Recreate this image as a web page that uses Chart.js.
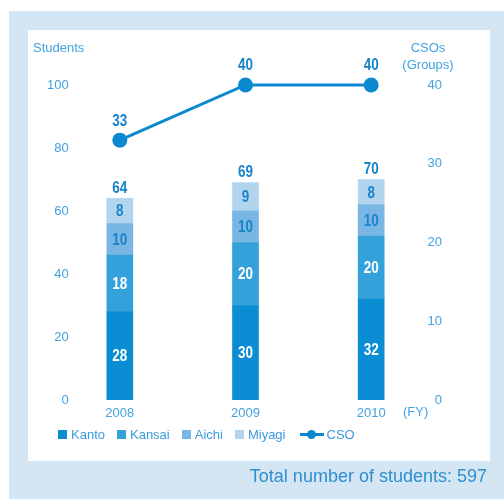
<!DOCTYPE html>
<html>
<head>
<meta charset="utf-8">
<script src="https://cdn.jsdelivr.net/npm/chart.js@4/dist/chart.umd.min.js"></script>
<style>
  html, body { margin: 0; padding: 0; background: #fff; }
  #wrap { position: relative; width: 504px; height: 499px; overflow: hidden; font-family: "Liberation Sans", Arial, sans-serif; }
  #frame { position: absolute; left: 9px; top: 11px; width: 495px; height: 488px; background: #d4e5f4; }
  #panel { position: absolute; left: 28px; top: 30px; width: 462px; height: 431px; background: #fff; }
  #chart { position: absolute; left: 0; top: 0; }
  #legend { position: absolute; left: 58px; top: 426px; height: 17px; display: flex; align-items: center; font-size: 13px; color: #3b9cdc; }
  #legend .item { display: flex; align-items: center; margin-right: 12px; }
  #legend .box { width: 9px; height: 9px; margin-right: 4px; }
  #legend .line { position: relative; width: 24px; height: 3px; margin-left: 2px; margin-right: 3px; }
  #legend .dot { position: absolute; left: 7px; top: -3px; width: 9px; height: 9px; border-radius: 50%; }
  #total { position: absolute; right: 17px; top: 466px; font-size: 18px; color: #2d8fcf; }
</style>
</head>
<body>
<div id="wrap">
  <div id="frame"></div>
  <div id="panel"></div>
  <canvas id="chart" width="504" height="499"></canvas>
  <div id="legend"></div>
  <div id="total">Total number of students: 597</div>
</div>
<script>
const years = ['2008', '2009', '2010'];
const kanto = [28, 30, 32];
const kansai = [18, 20, 20];
const aichi = [10, 10, 10];
const miyagi = [8, 9, 8];
const cso = [33, 40, 40];
const studentTicks = [0, 20, 40, 60, 80, 100];
const csoTicks = [0, 10, 20, 30, 40];

const tickColor = '#43a2df';
const numberFont = 'bold 16px "Liberation Sans", Arial, sans-serif';

Chart.defaults.font.family = '"Liberation Sans", Arial, sans-serif';
Chart.defaults.font.size = 13;
Chart.defaults.color = tickColor;

// bold numbers, squeezed a little to look condensed
function drawNumber(ctx, text, x, y, color) {
  ctx.save();
  ctx.font = numberFont;
  ctx.fillStyle = color;
  ctx.textAlign = 'center';
  ctx.textBaseline = 'middle';
  ctx.translate(x, y);
  ctx.scale(0.84, 1);
  ctx.fillText(text, 0, 0);
  ctx.restore();
}

// numbers on the bars, totals above the stacks and values above the CSO points
const valueLabels = {
  id: 'valueLabels',
  afterDatasetsDraw(chart) {
    const ctx = chart.ctx;
    const xScale = chart.scales.x;
    const yScale = chart.scales.y;
    chart.data.datasets.forEach((ds, i) => {
      const meta = chart.getDatasetMeta(i);
      meta.data.forEach((el, j) => {
        if (ds.type === 'line') {
          drawNumber(ctx, ds.data[j], el.x, el.y - 19, '#1583c8');
        } else {
          const p = el.getProps(['x', 'y', 'base'], true);
          drawNumber(ctx, ds.data[j], p.x, (p.y + p.base) / 2 + 1, ds.labelColor);
        }
      });
    });
    years.forEach((yr, j) => {
      const total = kanto[j] + kansai[j] + aichi[j] + miyagi[j];
      drawNumber(ctx, total, xScale.getPixelForValue(j), yScale.getPixelForValue(total) - 10, '#1583c8');
    });

    // axis captions
    ctx.save();
    ctx.font = '13px "Liberation Sans", Arial, sans-serif';
    ctx.fillStyle = tickColor;
    ctx.textBaseline = 'middle';
    ctx.textAlign = 'left';
    ctx.fillText('Students', 33, 48);
    ctx.fillText('(FY)', 403, 412);
    ctx.textAlign = 'center';
    ctx.fillText('CSOs', 428, 48);
    ctx.fillText('(Groups)', 428, 65);
    ctx.restore();
  }
};

const chart = new Chart(document.getElementById('chart'), {
  data: {
    labels: years,
    datasets: [
      {
        type: 'line',
        label: 'CSO',
        data: cso,
        yAxisID: 'y1',
        borderColor: '#0a89d0',
        backgroundColor: '#0a89d0',
        borderWidth: 3,
        pointRadius: 7.5,
        pointBorderWidth: 0,
        pointBackgroundColor: '#0a89d0',
        clip: false,
        order: 0
      },
      { type: 'bar', label: 'Kanto', data: kanto, backgroundColor: '#0a8dd2', labelColor: '#ffffff', order: 1 },
      { type: 'bar', label: 'Kansai', data: kansai, backgroundColor: '#35a1db', labelColor: '#ffffff', order: 1 },
      { type: 'bar', label: 'Aichi', data: aichi, backgroundColor: '#79b6e4', labelColor: '#1a84cb', order: 1 },
      { type: 'bar', label: 'Miyagi', data: miyagi, backgroundColor: '#b3d4ef', labelColor: '#1a84cb', order: 1 }
    ]
  },
  options: {
    responsive: false,
    animation: false,
    datasets: {
      bar: { barThickness: 26, borderWidth: 0 }
    },
    layout: { padding: { left: 0, right: 62, top: 85, bottom: 79 } },
    plugins: {
      legend: { display: false },
      tooltip: { enabled: false }
    },
    scales: {
      x: {
        stacked: true,
        offset: true,
        grid: { display: false, drawTicks: false },
        border: { display: false },
        ticks: { padding: 6, color: tickColor },
        afterFit(scale) { scale.height = 20; }
      },
      y: {
        stacked: true,
        position: 'left',
        min: 0,
        max: 100,
        grid: { display: false, drawTicks: false },
        border: { display: false },
        ticks: { mirror: true, crossAlign: 'far', padding: -10, color: tickColor },
        afterBuildTicks(scale) { scale.ticks = studentTicks.map(v => ({ value: v })); },
        afterFit(scale) { scale.width = 57; }
      },
      y1: {
        position: 'right',
        min: 0,
        max: 40,
        grid: { display: false, drawTicks: false },
        border: { display: false },
        ticks: { mirror: true, crossAlign: 'near', padding: 8, color: tickColor },
        afterBuildTicks(scale) { scale.ticks = csoTicks.map(v => ({ value: v })); },
        afterFit(scale) { scale.width = 8; }
      }
    }
  },
  plugins: [valueLabels]
});

// legend: bar series first, then the CSO line
const legend = document.getElementById('legend');
const bars = chart.data.datasets.filter(d => d.type === 'bar');
const line = chart.data.datasets.find(d => d.type === 'line');
bars.forEach(d => {
  const item = document.createElement('div');
  item.className = 'item';
  item.innerHTML = '<span class="box" style="background:' + d.backgroundColor + '"></span>' + d.label;
  legend.appendChild(item);
});
const lineItem = document.createElement('div');
lineItem.className = 'item';
lineItem.innerHTML = '<span class="line" style="background:' + line.borderColor + '"><span class="dot" style="background:' + line.borderColor + '"></span></span>' + line.label;
legend.appendChild(lineItem);
</script>
</body>
</html>
